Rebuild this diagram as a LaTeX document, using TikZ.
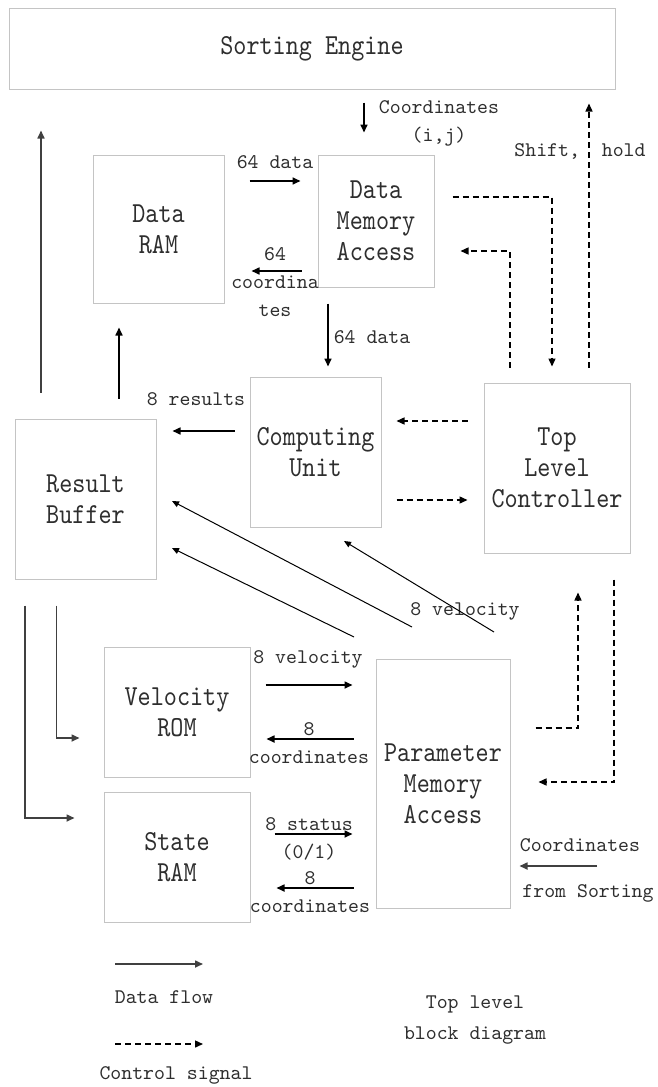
\documentclass[tikz,border=0pt]{standalone}
\usepackage{fontspec}
\usetikzlibrary{arrows.meta}
\newfontfamily\boxfont[FakeStretch=0.86]{lmmono10-regular.otf}
\newfontfamily\lblfont{lmmono10-regular.otf}
\definecolor{txt}{HTML}{2E2E2E}
\definecolor{boxline}{HTML}{C4C4C4}
\tikzset{
  blk/.style={draw=boxline, line width=1pt, rectangle, inner sep=0pt, align=center,
    text=txt, font=\boxfont\fontsize{29}{31}\selectfont},
  lbl/.style={inner sep=0pt, align=center, text=txt, font=\lblfont\fontsize{20.8}{28}\selectfont},
  data/.style={draw=black, line width=1.6pt, -{Triangle[length=8pt,width=7pt]}},
  thindata/.style={draw=black, line width=1pt, -{Triangle[length=7pt,width=6pt]}},
  ctrl/.style={draw=black, line width=1.4pt, dash pattern=on 6pt off 4pt, -{Triangle[length=8pt,width=7pt]}},
}
\begin{document}
\begin{tikzpicture}[x=1pt,y=-1pt]
\useasboundingbox (0,0) rectangle (657,1087);
% blocks
\node[blk, minimum width=606pt, minimum height=81pt] (SE) at (312,48.5) {Sorting Engine};
\node[blk, minimum width=131pt, minimum height=148pt] (DRAM) at (158.5,229) {Data\\RAM};
\node[blk, minimum width=116pt, minimum height=132pt] (DMA) at (376,221) {Data\\Memory\\Access};
\node[blk, minimum width=131pt, minimum height=150pt] (CU) at (315.5,452) {Computing\\Unit};
\node[blk, minimum width=146pt, minimum height=170pt] (TLC) at (557,468) {Top\\Level\\Controller};
\node[blk, minimum width=141pt, minimum height=160pt] (RB) at (85.5,499) {Result\\Buffer};
\node[blk, minimum width=146pt, minimum height=130pt] (VROM) at (177,712) {Velocity\\ROM};
\node[blk, minimum width=146pt, minimum height=130pt] (SRAM) at (177,857) {State\\RAM};
\node[blk, minimum width=134pt, minimum height=249pt] (PMA) at (443,783.5) {Parameter\\Memory\\Access};

% labels
\node[lbl] (lcoord) at (439,123.5) {Coordinates\\(i,j)};
\node[lbl] (lshift) at (580,151) {Shift,\ \ hold};
\node[lbl] (l64a) at (275,162) {64 data};
\node[lbl] (l64c) at (275,282.5) {64\\coordina\\tes};
\node[lbl] (l64b) at (372,337) {64 data};
\node[lbl] (lres) at (196,399) {8 results};
\node[lbl] (lvel1) at (465,611) {8 velocity};
\node[lbl] (lvel2) at (308,659) {8 velocity};
\node[lbl] (lco1) at (309,743) {8\\coordinates};
\node[lbl] (lstat) at (309,838.5) {8 status\\(0/1)};
\node[lbl] (lco2) at (310,892) {8\\coordinates};
\node[lbl] (lext1) at (580,845) {Coordinates};
\node[lbl] (lext2) at (588,893) {from Sorting};
\node[lbl] (ldf) at (164,997) {Data flow};
\node[lbl] (lcs) at (176,1075) {Control signal};
\node[lbl, font=\lblfont\fontsize{20.8}{31}\selectfont] (ltitle) at (475,1020) {Top level\\block diagram};

% data connectors
\draw[data, shorten <=13pt, shorten >=22pt] (SE.south -| 364,0) -- (DMA.north -| 364,0);
\draw[data, shorten <=25pt, shorten >=17pt] (DRAM.east |- 0,181) -- (DMA.west |- 0,181);
\draw[data, shorten <=16pt, shorten >=27pt] (DMA.west |- 0,271) -- (DRAM.east |- 0,271);
\draw[data, shorten <=16pt, shorten >=10pt] (DMA.south -| 328,0) -- (CU.north -| 328,0);
\draw[data, shorten <=15pt, shorten >=16pt] (CU.west |- 0,431) -- (RB.east |- 0,431);
\draw[data, shorten <=20pt, shorten >=24pt] (RB.north -| 119,0) -- (DRAM.south -| 119,0);
\draw[data, draw=black!75, shorten <=26pt, shorten >=41pt] (RB.north -| 41,0) -- (SE.south -| 41,0);
\draw[data, draw=black!75, shorten <=26pt, shorten >=24pt] (RB.south -| 56.5,0) |- (VROM.west |- 0,738);
\draw[data, draw=black!75, shorten <=26pt, shorten >=29pt] (RB.south -| 25,0) |- (SRAM.west |- 0,818);
\draw[data, shorten <=15pt, shorten >=23pt] (VROM.east |- 0,685) -- (PMA.west |- 0,685);
\draw[data, shorten <=22pt, shorten >=16pt] (PMA.west |- 0,739) -- (VROM.east |- 0,739);
\draw[data, shorten <=24pt, shorten >=23pt] (SRAM.east |- 0,834) -- (PMA.west |- 0,834);
\draw[data, shorten <=22pt, shorten >=26pt] (PMA.west |- 0,888) -- (SRAM.east |- 0,888);
\coordinate (ext) at (597,866);
\draw[data, draw=black!75, shorten >=9pt] (ext) -- (PMA.east |- ext);

% diagonal data connectors
\coordinate (d1s) at (412,627); \coordinate (d1e) at (172,501);
\coordinate (d2s) at (354,637); \coordinate (d2e) at (172,548);
\coordinate (d3s) at (494,632); \coordinate (d3e) at (344,541);
\draw[thindata] (d1s) -- (d1e);
\draw[thindata] (d2s) -- (d2e);
\draw[thindata] (d3s) -- (d3e);

% control connectors
\draw[ctrl, shorten <=18pt, shorten >=16pt] (DMA.east |- 0,197) -| (TLC.north -| 552,0);
\draw[ctrl, shorten <=15pt, shorten >=26pt] (TLC.north -| 510,0) |- (DMA.east |- 0,251);
\draw[ctrl, shorten <=15pt, shorten >=14pt] (TLC.north -| 589,0) -- (SE.south -| 589,0);
\draw[ctrl, shorten <=16pt, shorten >=15pt] (TLC.west |- 0,421) -- (CU.east |- 0,421);
\draw[ctrl, shorten <=15pt, shorten >=16pt] (CU.east |- 0,500) -- (TLC.west |- 0,500);
\draw[ctrl, shorten <=25pt, shorten >=39pt] (PMA.east |- 0,728) -| (TLC.south -| 578,0);
\draw[ctrl, shorten <=26pt, shorten >=28pt] (TLC.south -| 614,0) |- (PMA.east |- 0,782);

% legend
\coordinate (lg1s) at (115,964); \coordinate (lg1e) at (203,964);
\coordinate (lg2s) at (115,1044); \coordinate (lg2e) at (203,1044);
\draw[data, draw=black!75] (lg1s) -- (lg1e);
\draw[ctrl] (lg2s) -- (lg2e);
\end{tikzpicture}
\end{document}
